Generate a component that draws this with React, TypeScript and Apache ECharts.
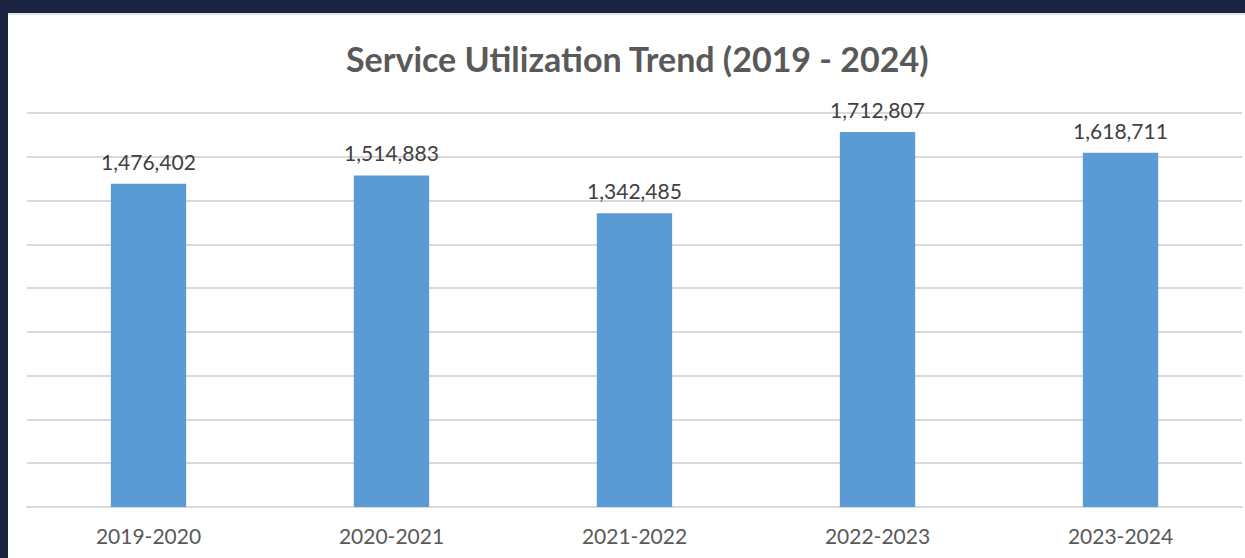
import React, { useEffect, useRef } from "react";
import * as echarts from "echarts";

const categories = ["2019-2020", "2020-2021", "2021-2022", "2022-2023", "2023-2024"];
const utilization = [1476402, 1514883, 1342485, 1712807, 1618711];
const titleText = "Service Utilization Trend (2019 - 2024)";

export default function App() {
  const ref = useRef<HTMLDivElement>(null);
  useEffect(() => {
    if (!ref.current) return;
    const chart = echarts.init(ref.current, undefined, { renderer: "svg" });
    chart.setOption({
      animation: false,
      backgroundColor: "#1b2440",
      textStyle: { fontFamily: "Lato" },
      graphic: [
        {
          type: "rect",
          z: -10,
          shape: { x: 8, y: 14, width: 1237, height: 544 },
          style: { fill: "#ffffff" },
        },
        {
          type: "rect",
          z: -9,
          shape: { x: 8, y: 13, width: 1237, height: 2 },
          style: { fill: "#e4e4e4" },
        },
      ],
      title: {
        text: titleText,
        left: 341,
        top: 36,
        textStyle: {
          fontFamily: "Lato",
          fontWeight: "bold",
          fontSize: 34,
          color: "#595959",
        },
      },
      grid: { left: 27, right: 3, top: 113, bottom: 51 },
      xAxis: {
        type: "category",
        data: categories,
        axisLine: { show: true, lineStyle: { color: "#d9d9d9", width: 2 } },
        axisTick: { show: false },
        axisLabel: {
          color: "#595959",
          fontSize: 21,
          margin: 18,
          fontFamily: "Lato",
        },
      },
      yAxis: {
        type: "value",
        min: 0,
        max: 1800000,
        interval: 200000,
        axisLabel: { show: false },
        axisLine: { show: false },
        axisTick: { show: false },
        splitLine: { lineStyle: { color: "#d9d9d9", width: 2 } },
      },
      series: [
        {
          type: "bar",
          data: utilization,
          barWidth: "31%",
          itemStyle: { color: "#5b9bd5" },
          label: {
            show: true,
            position: "top",
            distance: 12,
            color: "#404040",
            fontSize: 21,
            fontFamily: "Lato",
            formatter: (p: any) => Number(p.value).toLocaleString("en-US"),
          },
        },
      ],
    });
    return () => chart.dispose();
  }, []);
  return (
    <div
      ref={ref}
      style={{ position: "fixed", left: 0, top: 0, width: 1245, height: 558 }}
    />
  );
}
